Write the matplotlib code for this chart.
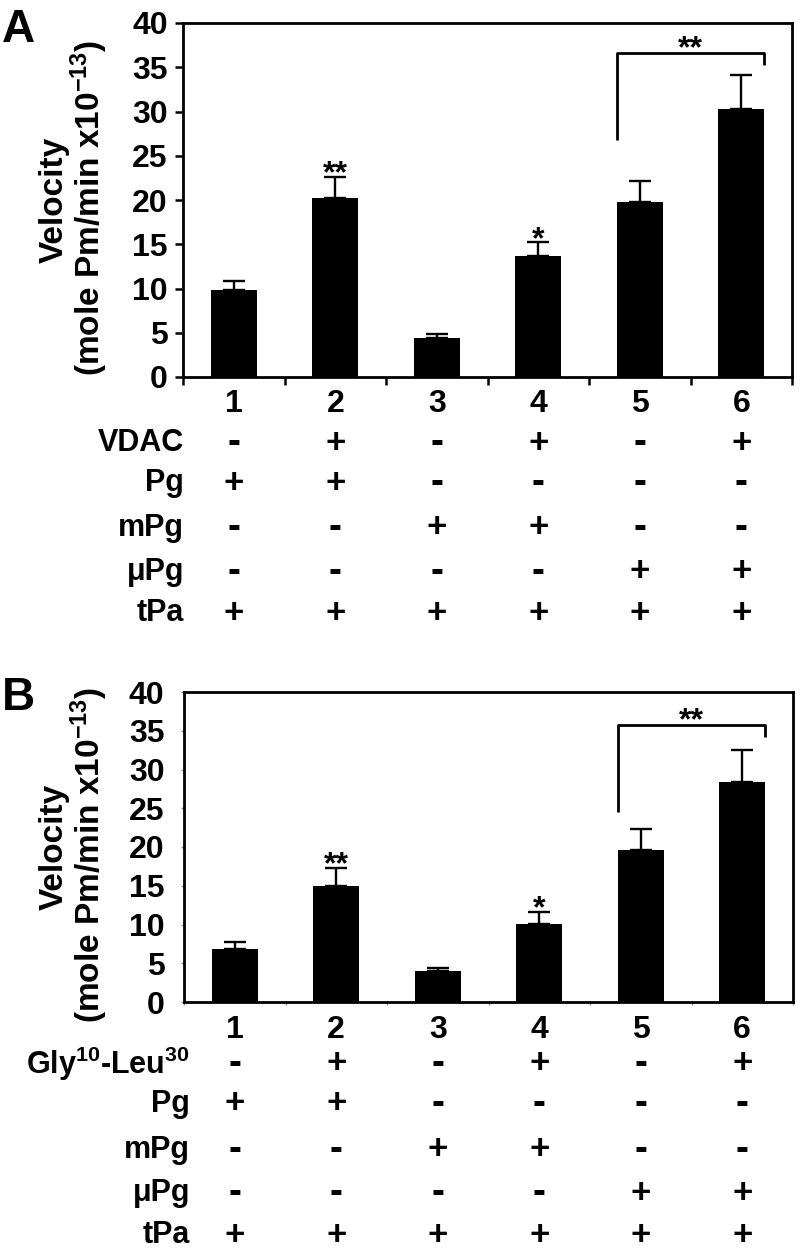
import numpy as np
import matplotlib
matplotlib.use("Agg")
import matplotlib.pyplot as plt
import matplotlib.transforms as mtransforms

plt.rcParams["font.family"] = ["Liberation Sans", "DejaVu Sans"]
plt.rcParams["font.weight"] = "bold"
plt.rcParams["mathtext.fontset"] = "custom"
plt.rcParams["mathtext.rm"] = "Liberation Sans:bold"
plt.rcParams["mathtext.it"] = "Liberation Sans:bold"
plt.rcParams["mathtext.bf"] = "Liberation Sans:bold"

# data
lanes = ["1", "2", "3", "4", "5", "6"]
velocity_a = [9.8, 20.2, 4.4, 13.7, 19.8, 30.3]
error_a = [1.1, 2.4, 0.45, 1.5, 2.3, 3.8]
velocity_b = [6.9, 15.0, 4.0, 10.1, 19.6, 28.4]
error_b = [0.9, 2.3, 0.45, 1.5, 2.7, 4.1]
stars = ["", "**", "", "*", "", ""]

rows_a = ["VDAC", "Pg", "mPg", "\u03bcPg", "tPa"]
rows_b = ["Gly$^{10}$-Leu$^{30}$", "Pg", "mPg", "\u03bcPg", "tPa"]
signs = [
    ["-", "+", "-", "+", "-", "+"],
    ["+", "+", "-", "-", "-", "-"],
    ["-", "-", "+", "+", "-", "-"],
    ["-", "-", "-", "-", "+", "+"],
    ["+", "+", "+", "+", "+", "+"],
]
# bracket between lanes 5 and 6: (top, left leg end, right leg end)
bracket_a = (36.6, 26.8, 35.3)
bracket_b = (35.7, 24.5, 34.2)

W, H = 800, 1255
fig = plt.figure(figsize=(W / 100, H / 100), dpi=100)


def fy(px):
    return 1 - px / H


def draw_panel(rect, values, errors, bracket, row_names, row_px, num_px,
               label_right, letter, letter_px, thin_ticks):
    ax = fig.add_axes(rect)
    x = np.arange(len(values))
    ax.bar(x, values, width=0.45, color="black", zorder=2)
    ax.errorbar(x, values, yerr=[np.zeros(len(errors)), errors], fmt="none",
                ecolor="black", elinewidth=1.7, capsize=8, capthick=1.7, zorder=3)
    ax.set_xlim(-0.5, len(values) - 0.5)
    ax.set_ylim(0, 40)
    ax.set_yticks(np.arange(0, 41, 5))
    ax.set_xticks(np.arange(-0.5, len(values), 1.0))
    ax.set_xticklabels([])
    for s in ax.spines.values():
        s.set_linewidth(2.0)
        s.set_color("black")
    if thin_ticks:
        ax.tick_params(axis="both", length=2, width=1, color="0.55")
        ax.tick_params(axis="y", pad=12)
    else:
        ax.tick_params(axis="both", length=6, width=1.8, color="black")
        ax.tick_params(axis="y", pad=5)
    for t in ax.get_yticklabels():
        t.set_fontsize(23)
        t.set_fontweight("bold")

    # significance marks
    for i, s in enumerate(stars):
        if s:
            ax.annotate(s, (x[i], values[i] + errors[i]), xytext=(0, -4),
                        textcoords="offset points", ha="center", va="baseline",
                        fontsize=23, fontweight="bold")
    top, left_end, right_end = bracket
    xl, xr = 4 - 0.225, 5 + 0.225
    ax.plot([xl, xl, xr, xr], [left_end, top, top, right_end], color="black",
            lw=2.0, solid_capstyle="butt", zorder=3)
    ax.annotate("**", ((xl + xr) / 2, top), xytext=(0, -3), textcoords="offset points",
                ha="center", va="baseline", fontsize=23, fontweight="bold")

    # treatment table under the axis
    tr = mtransforms.blended_transform_factory(ax.transData, fig.transFigure)
    for i, lab in enumerate(lanes):
        ax.text(x[i], fy(num_px), lab, transform=tr, ha="center", va="center",
                fontsize=23, fontweight="bold")
    for r, (name, ypx) in enumerate(zip(row_names, row_px)):
        fig.text(label_right / W, fy(ypx), name, ha="right", va="center",
                 fontsize=22, fontweight="bold")
        for i in range(len(lanes)):
            s = signs[r][i]
            ax.text(x[i], fy(ypx), s, transform=tr, ha="center", va="center",
                    fontsize=28 if s == "-" else 25, fontweight="bold")

    # y label (two lines)
    ymid = rect[1] + rect[3] / 2
    fig.text(54 / W, ymid, "Velocity", rotation=90, ha="center", va="center",
             fontsize=24, fontweight="bold")
    fig.text(89 / W, ymid - 0.006, "(mole Pm/min x10$^{-13}$)", rotation=90,
             ha="center", va="center", fontsize=24, fontweight="bold")
    fig.text(2 / W, fy(letter_px), letter, ha="left", va="baseline",
             fontsize=33, fontweight="bold")
    return ax


# panel A: axis spans y px 23..377, x px 183..792
draw_panel([183 / W, fy(377), (792 - 183) / W, (377 - 23) / H],
           velocity_a, error_a, bracket_a, rows_a,
           [443, 483, 528, 572, 613], 404, 184, "A", 42, False)
# panel B: axis spans y px 692..1002, x px 184..793
draw_panel([184 / W, fy(1002), (793 - 184) / W, (1002 - 692) / H],
           velocity_b, error_b, bracket_b, rows_b,
           [1064, 1104, 1150, 1193, 1235], 1030, 190, "B", 710, True)

fig.savefig("out.png", dpi=100)
